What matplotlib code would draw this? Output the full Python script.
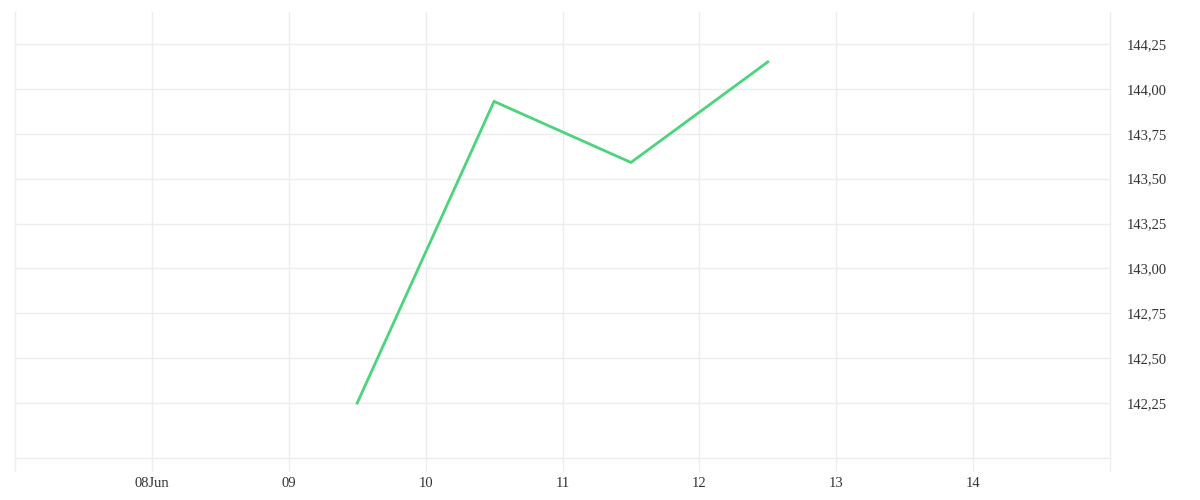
import datetime as dt
import matplotlib
matplotlib.use("Agg")
import matplotlib.pyplot as plt
import matplotlib.dates as mdates
from matplotlib.ticker import FuncFormatter, FixedLocator

# data
times = [dt.datetime(2023, 6, 9, 12), dt.datetime(2023, 6, 10, 12),
         dt.datetime(2023, 6, 11, 12), dt.datetime(2023, 6, 12, 12)]
values = [142.25, 143.93, 143.59, 144.15]

x_ticks = [dt.datetime(2023, 6, d) for d in range(8, 15)]
x_labels = ["08Jun", "09", "10", "11", "12", "13", "14"]
y_ticks = [142.25, 142.50, 142.75, 143.00, 143.25, 143.50, 143.75, 144.00, 144.25]

grid_col = "#ededed"
text_col = "#333333"
plt.rcParams["font.family"] = ["Liberation Serif", "DejaVu Serif"]

fig = plt.figure(figsize=(12, 5), dpi=100)
ax = fig.add_axes([15 / 1200, 42 / 500, 1095 / 1200, 446 / 500])

ax.plot(times, values, color="#4cd47c", linewidth=2, solid_joinstyle="miter")

x0, x1 = dt.datetime(2023, 6, 7), dt.datetime(2023, 6, 15)
ax.set_xlim(x0, x1)
ax.set_ylim(141.944, 144.428)

ax.set_xticks(x_ticks)
ax.set_xticklabels(x_labels)
ax.xaxis.set_minor_locator(FixedLocator([mdates.date2num(x0), mdates.date2num(x1)]))
ax.set_yticks(y_ticks)
ax.yaxis.set_major_formatter(FuncFormatter(lambda v, p: f"{v:.2f}".replace(".", ",")))
ax.yaxis.tick_right()

ax.grid(True, color=grid_col, linewidth=1)
ax.tick_params(axis="x", which="both", length=9, width=1, color=grid_col,
               labelsize=10.5, labelcolor=text_col, pad=4.5)
ax.tick_params(axis="y", length=0, labelsize=10.5, labelcolor=text_col, pad=12)

for side in ["left", "right", "bottom"]:
    ax.spines[side].set_color(grid_col)
    ax.spines[side].set_linewidth(1)
ax.spines["top"].set_visible(False)

fig.savefig("out.png", dpi=100, facecolor="white")
